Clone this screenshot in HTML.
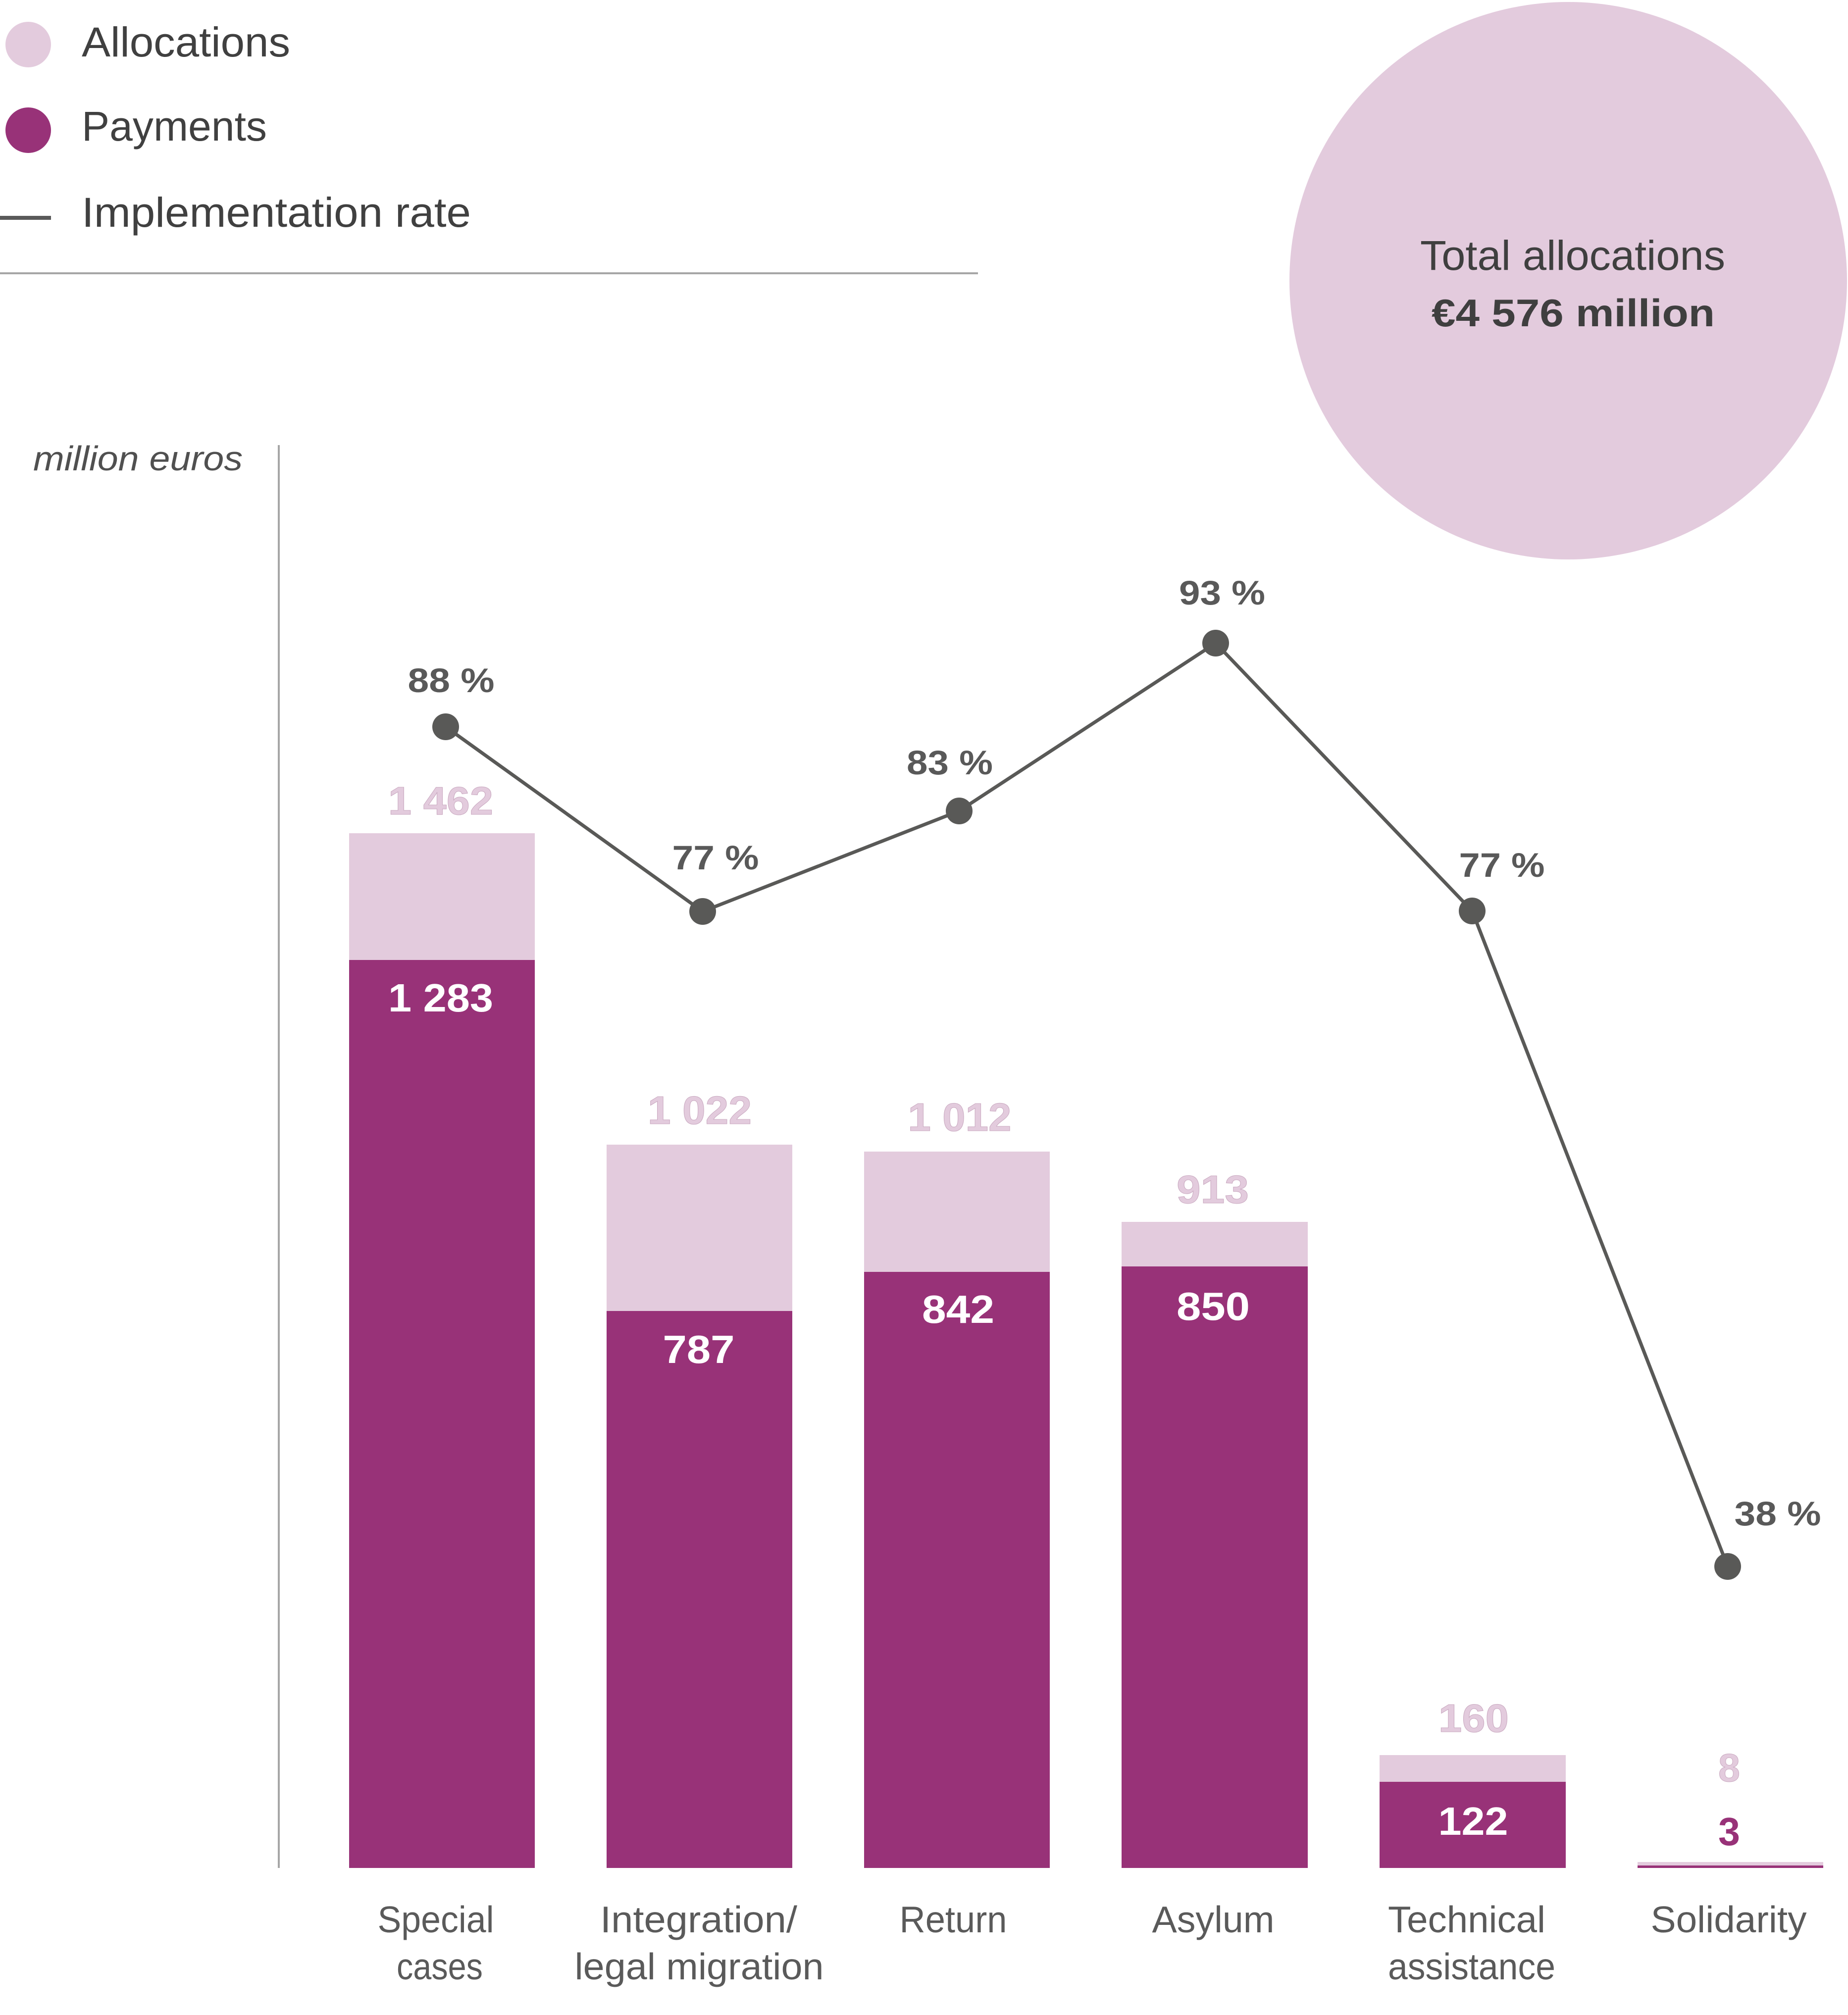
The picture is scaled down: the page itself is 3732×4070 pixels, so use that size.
<!DOCTYPE html>
<html>
<head>
<meta charset="utf-8">
<style>
  html, body { margin: 0; padding: 0; background: #ffffff; }
  body { width: 3732px; height: 4070px; overflow: hidden; }
  svg { display: block; }
  text { font-family: "Liberation Sans", "DejaVu Sans", sans-serif; }
</style>
</head>
<body>
<svg width="3732" height="4070" viewBox="0 0 3732 4070" xmlns="http://www.w3.org/2000/svg">
  <rect x="0" y="0" width="3732" height="4070" fill="#ffffff"/>

  <!-- Legend -->
  <circle cx="57" cy="90" r="46" fill="#E3CBDD"/>
  <text x="165" y="114" font-size="84" fill="#404040" textLength="421" lengthAdjust="spacingAndGlyphs">Allocations</text>
  <circle cx="57" cy="263" r="46" fill="#983278"/>
  <text x="165" y="284" font-size="84" fill="#404040" textLength="374" lengthAdjust="spacingAndGlyphs">Payments</text>
  <rect x="0" y="436" width="103" height="8" fill="#595959"/>
  <text x="165" y="458" font-size="84" fill="#404040" textLength="786" lengthAdjust="spacingAndGlyphs">Implementation rate</text>
  <rect x="0" y="550" width="1975" height="4" fill="#A6A6A6"/>

  <!-- Total allocations circle -->
  <circle cx="3167" cy="567" r="563" fill="#E3CBDD"/>
  <text x="3176" y="545" font-size="84" fill="#3F3F3F" text-anchor="middle" textLength="616" lengthAdjust="spacingAndGlyphs">Total allocations</text>
  <text x="3177" y="659" font-size="78" font-weight="bold" fill="#3F3F3F" text-anchor="middle" textLength="572" lengthAdjust="spacingAndGlyphs">€4 576 million</text>

  <!-- Axis label and axis -->
  <text x="67" y="950" font-size="70" font-style="italic" fill="#505050" textLength="423" lengthAdjust="spacingAndGlyphs">million euros</text>
  <rect x="561" y="899" width="4" height="2874" fill="#A6A6A6"/>

  <!-- Bars: baseline 3773, 1.4296 px per million -->
  <!-- Special cases -->
  <rect x="705" y="1683" width="375" height="256" fill="#E3CBDD"/>
  <rect x="705" y="1939" width="375" height="1834" fill="#983278"/>
  <!-- Integration -->
  <rect x="1225" y="2312" width="375" height="336" fill="#E3CBDD"/>
  <rect x="1225" y="2648" width="375" height="1125" fill="#983278"/>
  <!-- Return -->
  <rect x="1745" y="2326" width="375" height="243" fill="#E3CBDD"/>
  <rect x="1745" y="2569" width="375" height="1204" fill="#983278"/>
  <!-- Asylum -->
  <rect x="2265" y="2468" width="376" height="90" fill="#E3CBDD"/>
  <rect x="2265" y="2558" width="376" height="1215" fill="#983278"/>
  <!-- Technical assistance -->
  <rect x="2786" y="3545" width="376" height="54" fill="#E3CBDD"/>
  <rect x="2786" y="3599" width="376" height="174" fill="#983278"/>
  <!-- Solidarity -->
  <rect x="3307" y="3761" width="375" height="8" fill="#E3CBDD"/>
  <rect x="3307" y="3768" width="375" height="5" fill="#983278"/>

  <!-- Allocation labels -->
  <g font-size="80" font-weight="bold" fill="#E3CBDD" text-anchor="middle" stroke="#C9A9C0" stroke-width="1">
    <text x="890" y="1645" textLength="212" lengthAdjust="spacingAndGlyphs">1 462</text>
    <text x="1413" y="2270" textLength="210" lengthAdjust="spacingAndGlyphs">1 022</text>
    <text x="1938" y="2284" textLength="209" lengthAdjust="spacingAndGlyphs">1 012</text>
    <text x="2449" y="2430" textLength="146" lengthAdjust="spacingAndGlyphs">913</text>
    <text x="2976" y="3498" textLength="142" lengthAdjust="spacingAndGlyphs">160</text>
    <text x="3492" y="3598" textLength="44" lengthAdjust="spacingAndGlyphs">8</text>
  </g>

  <!-- Payment labels -->
  <g font-size="80" font-weight="bold" fill="#ffffff" text-anchor="middle">
    <text x="890" y="2043" textLength="212" lengthAdjust="spacingAndGlyphs">1 283</text>
    <text x="1411" y="2753" textLength="145" lengthAdjust="spacingAndGlyphs">787</text>
    <text x="1935" y="2672" textLength="146" lengthAdjust="spacingAndGlyphs">842</text>
    <text x="2450" y="2666" textLength="148" lengthAdjust="spacingAndGlyphs">850</text>
    <text x="2975" y="3706" textLength="141" lengthAdjust="spacingAndGlyphs">122</text>
  </g>
  <text x="3492" y="3727" font-size="80" font-weight="bold" fill="#983278" text-anchor="middle" textLength="44" lengthAdjust="spacingAndGlyphs">3</text>

  <!-- Implementation rate line -->
  <polyline points="900,1468 1419,1841 1937,1638 2455,1299 2973,1840 3489,3164"
            fill="none" stroke="#595957" stroke-width="7" stroke-linejoin="round"/>
  <g fill="#595957">
    <circle cx="900" cy="1468" r="27"/>
    <circle cx="1419" cy="1841" r="27"/>
    <circle cx="1937" cy="1638" r="27"/>
    <circle cx="2455" cy="1299" r="27"/>
    <circle cx="2973" cy="1840" r="27"/>
    <circle cx="3489" cy="3164" r="27"/>
  </g>

  <!-- Percent labels -->
  <g font-size="69" font-weight="bold" fill="#595959" text-anchor="middle">
    <text x="911" y="1398" textLength="175" lengthAdjust="spacingAndGlyphs">88 %</text>
    <text x="1445" y="1756" textLength="175" lengthAdjust="spacingAndGlyphs">77 %</text>
    <text x="1918" y="1564" textLength="174" lengthAdjust="spacingAndGlyphs">83 %</text>
    <text x="2468" y="1221" textLength="174" lengthAdjust="spacingAndGlyphs">93 %</text>
    <text x="3033" y="1771" textLength="173" lengthAdjust="spacingAndGlyphs">77 %</text>
    <text x="3590" y="3081" textLength="175" lengthAdjust="spacingAndGlyphs">38 %</text>
  </g>

  <!-- Category labels -->
  <g font-size="75" fill="#5A5A5A" text-anchor="middle">
    <text x="880" y="3903" textLength="235" lengthAdjust="spacingAndGlyphs">Special</text>
    <text x="888" y="3998" textLength="174" lengthAdjust="spacingAndGlyphs">cases</text>
    <text x="1411" y="3903" textLength="398" lengthAdjust="spacingAndGlyphs">Integration/</text>
    <text x="1412" y="3998" textLength="503" lengthAdjust="spacingAndGlyphs">legal migration</text>
    <text x="1925" y="3903" textLength="217" lengthAdjust="spacingAndGlyphs">Return</text>
    <text x="2450" y="3903" textLength="247" lengthAdjust="spacingAndGlyphs">Asylum</text>
    <text x="2962" y="3903" textLength="318" lengthAdjust="spacingAndGlyphs">Technical</text>
    <text x="2972" y="3998" textLength="338" lengthAdjust="spacingAndGlyphs">assistance</text>
    <text x="3491" y="3903" textLength="315" lengthAdjust="spacingAndGlyphs">Solidarity</text>
  </g>
</svg>
</body>
</html>
